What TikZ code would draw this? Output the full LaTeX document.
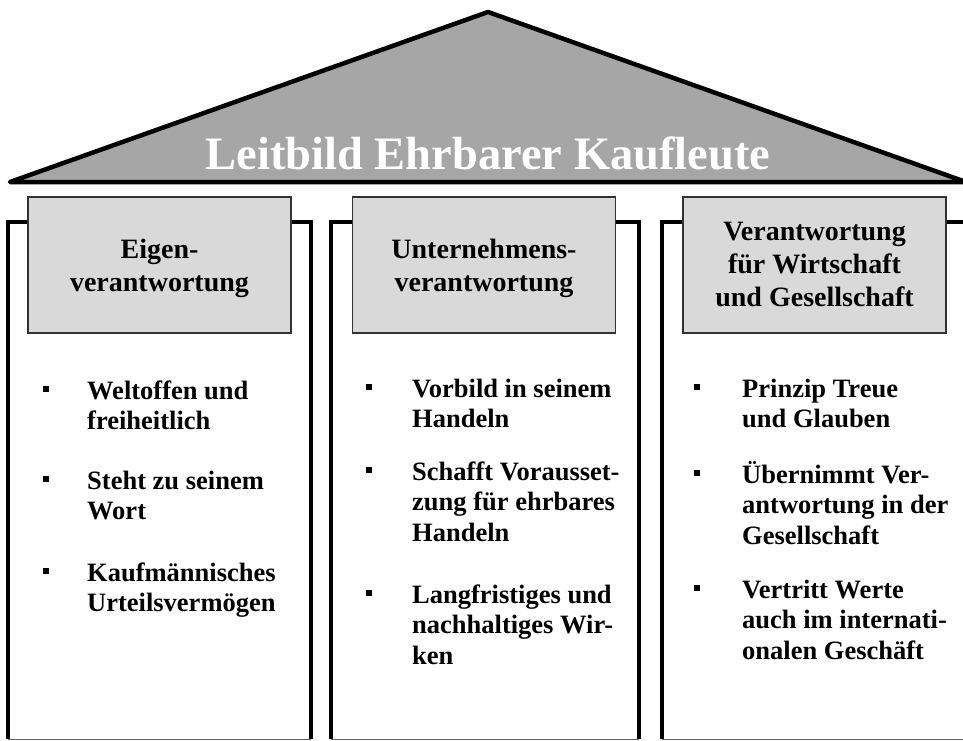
\documentclass[tikz,border=0pt]{standalone}
\usepackage{fontspec}
\setmainfont{Liberation Serif}
\definecolor{roofgray}{HTML}{A6A6A6}
\definecolor{hdrgray}{HTML}{D9D9D9}
\definecolor{hdrline}{HTML}{333333}
\begin{document}
\begin{tikzpicture}[x=1pt,y=-1pt,
  pillar/.style={line width=4.5pt, draw=black},
  pillarbase/.style={draw=black!60, line width=0.9pt},
  hdr/.style={draw=hdrline, line width=1.3pt, fill=hdrgray, minimum width=263pt, minimum height=136pt, inner sep=0pt},
  hdrtext/.style={font=\fontsize{28}{33}\selectfont\bfseries, align=flush center, text width=255pt, inner sep=0pt, anchor=base},
  itemtext/.style={font=\fontsize{26.5}{30.5}\selectfont\bfseries, align=flush left, text width=224pt, inner sep=0pt, anchor=base west},
  bul/.style={fill=black, minimum size=6.5pt, inner sep=0pt},
  titletext/.style={font=\fontsize{46.5}{50}\selectfont\bfseries, text=white, inner sep=0pt, anchor=base}
]
\useasboundingbox (0,0) rectangle (963,740);
% roof
\draw[line width=4.5pt, line join=round, fill=roofgray] (10,182) -- (488,12) -- (966,182) -- cycle;
\node[titletext] (title) at (488,169) {Leitbild Ehrbarer Kaufleute};
% pillars
\draw[pillar] (8,739) -- (8,222) -- (311,222) -- (311,739);
\draw[pillarbase] (8,739) -- (311,739);
\draw[pillar] (331,739) -- (331,222) -- (639,222) -- (639,739);
\draw[pillarbase] (331,739) -- (639,739);
\draw[pillar] (662,739) -- (662,222) -- (968,222) -- (968,739);
\draw[pillarbase] (662,739) -- (968,739);
% header boxes
\node[hdr] (h1) at (159.5,265) {};
\node[hdr] (h2) at (484,265) {};
\node[hdr] (h3) at (814.5,265) {};
\node[hdrtext] (t1) at (159.5,258) {Eigen-\\verantwortung};
\node[hdrtext] (t2) at (484,258) {Unternehmens-\\verantwortung};
\node[hdrtext] (t3) at (814.5,240) {Verantwortung\\für Wirtschaft\\und Gesellschaft};
% left column
\node[bul] (b11) at (46,389) {};
\node[itemtext] (i11) at (87,399) {Weltoffen und\\freiheitlich};
\node[bul] (b12) at (46,479) {};
\node[itemtext] (i12) at (87,489) {Steht zu seinem\\Wort};
\node[bul] (b13) at (46,571) {};
\node[itemtext] (i13) at (87,581) {Kaufmännisches\\Urteilsvermögen};
% middle column
\node[bul] (b21) at (369,387) {};
\node[itemtext] (i21) at (412,397) {Vorbild in seinem\\Handeln};
\node[bul] (b22) at (369,470) {};
\node[itemtext] (i22) at (412,480) {Schafft Vorausset-\\zung für ehrbares\\Handeln};
\node[bul] (b23) at (369,593) {};
\node[itemtext] (i23) at (412,603) {Langfristiges und\\nachhaltiges Wir-\\ken};
% right column
\node[bul] (b31) at (697,387) {};
\node[itemtext] (i31) at (742,397) {Prinzip Treue\\und Glauben};
\node[bul] (b32) at (697,473) {};
\node[itemtext] (i32) at (742,483) {Übernimmt Ver-\\antwortung in der\\Gesellschaft};
\node[bul] (b33) at (697,588) {};
\node[itemtext] (i33) at (742,598) {Vertritt Werte\\auch im internati-\\onalen Geschäft};
\end{tikzpicture}
\end{document}
